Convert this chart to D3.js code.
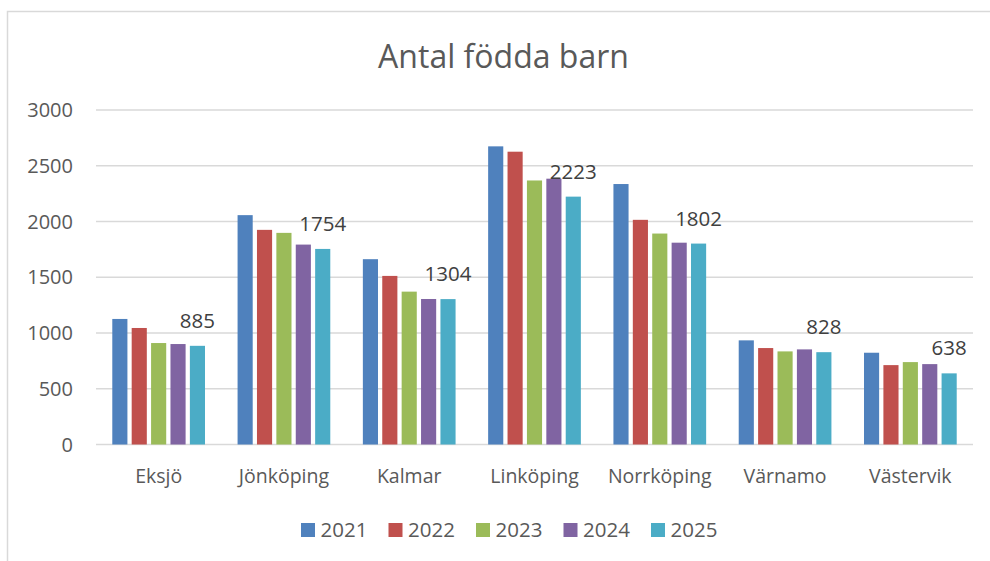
<!DOCTYPE html>
<html lang="sv">
<head>
    <meta charset="UTF-8">
    <title>Antal födda barn</title>
    <script src="https://d3js.org/d3.v7.min.js"></script>
    <style>
        body { margin: 0; background: #fff; }
        svg { display: block; font-family: "Open Sans", Arial, sans-serif; }
        .grid line { stroke: #d9d9d9; stroke-width: 1.4px; }
        .tick-label { fill: #595959; font-size: 20px; }
        .cat-label { fill: #595959; font-size: 19.5px; }
        .data-label { fill: #404040; font-size: 20.5px; }
        .legend text { fill: #595959; font-size: 20.5px; }
    </style>
</head>
<body>
    <svg id="chart" width="990" height="561"></svg>
    <script>
        const categories = ["Eksjö", "Jönköping", "Kalmar", "Linköping", "Norrköping", "Värnamo", "Västervik"];
        const years = ["2021", "2022", "2023", "2024", "2025"];
        const v2021 = [1126, 2057, 1662, 2674, 2336, 934, 823];
        const v2022 = [1045, 1925, 1512, 2626, 2015, 865, 712];
        const v2023 = [910, 1898, 1371, 2368, 1892, 835, 739];
        const v2024 = [901, 1793, 1305, 2384, 1810, 853, 721];
        const v2025 = [885, 1754, 1304, 2223, 1802, 828, 638];
        const yTicks = [0, 500, 1000, 1500, 2000, 2500, 3000];
        const colors = ["#4f81bd", "#c0504d", "#9bbb59", "#8064a2", "#4bacc6"];

        const series = [v2021, v2022, v2023, v2024, v2025];
        const labelledYear = "2025";

        const svg = d3.select("#chart");

        // chart frame (runs off the right and bottom edge)
        svg.append("rect")
            .attr("x", 7.5).attr("y", 11.5)
            .attr("width", 1100).attr("height", 700)
            .attr("fill", "#fff")
            .attr("stroke", "#d9d9d9")
            .attr("stroke-width", 1.5);

        svg.append("text")
            .attr("x", 503.5).attr("y", 67.5)
            .attr("text-anchor", "middle")
            .attr("fill", "#595959")
            .attr("font-size", 32)
            .text("Antal födda barn");

        const x0 = d3.scaleBand().domain(categories).range([96, 973]).padding(0);
        const bw = x0.bandwidth();
        const x1 = d3.scaleBand().domain(years).range([bw * 0.13, bw * 0.87]).paddingInner(0.22);
        const y = d3.scaleLinear().domain([0, 3000]).range([444.5, 110]);

        // gridlines
        svg.append("g").attr("class", "grid")
            .selectAll("line").data(yTicks).join("line")
            .attr("x1", 96).attr("x2", 973)
            .attr("y1", d => y(d)).attr("y2", d => y(d));

        svg.append("g")
            .selectAll("text").data(yTicks).join("text")
            .attr("class", "tick-label")
            .attr("x", 73).attr("y", d => y(d))
            .attr("dy", "0.36em")
            .attr("text-anchor", "end")
            .text(d => d);

        // bars
        const groups = svg.append("g")
            .selectAll("g").data(categories).join("g")
            .attr("transform", d => `translate(${x0(d)},0)`);

        groups.selectAll("rect")
            .data((c, ci) => years.map((yr, si) => ({ year: yr, si, value: series[si][ci] })))
            .join("rect")
            .attr("x", d => x1(d.year))
            .attr("width", x1.bandwidth())
            .attr("y", d => y(d.value))
            .attr("height", d => y(0) - y(d.value))
            .attr("fill", d => colors[d.si]);

        groups.selectAll("text.data-label")
            .data((c, ci) => years.map((yr, si) => ({ year: yr, si, value: series[si][ci] }))
                .filter(d => d.year === labelledYear))
            .join("text")
            .attr("class", "data-label")
            .attr("x", d => x1(d.year) + x1.bandwidth() / 2)
            .attr("y", d => y(d.value) - 18)
            .attr("text-anchor", "middle")
            .text(d => d.value);

        // category labels
        svg.append("g")
            .selectAll("text").data(categories).join("text")
            .attr("class", "cat-label")
            .attr("x", d => x0(d) + bw / 2)
            .attr("y", 482.5)
            .attr("text-anchor", "middle")
            .text(d => d);

        // legend
        const legend = svg.append("g").attr("class", "legend")
            .selectAll("g").data(years).join("g")
            .attr("transform", (d, i) => `translate(${301 + i * 87.5},523)`);

        legend.append("rect")
            .attr("width", 14).attr("height", 14)
            .attr("fill", (d, i) => colors[i]);

        legend.append("text")
            .attr("x", 19.5).attr("y", 14)
            .text(d => d);
    </script>
</body>
</html>
